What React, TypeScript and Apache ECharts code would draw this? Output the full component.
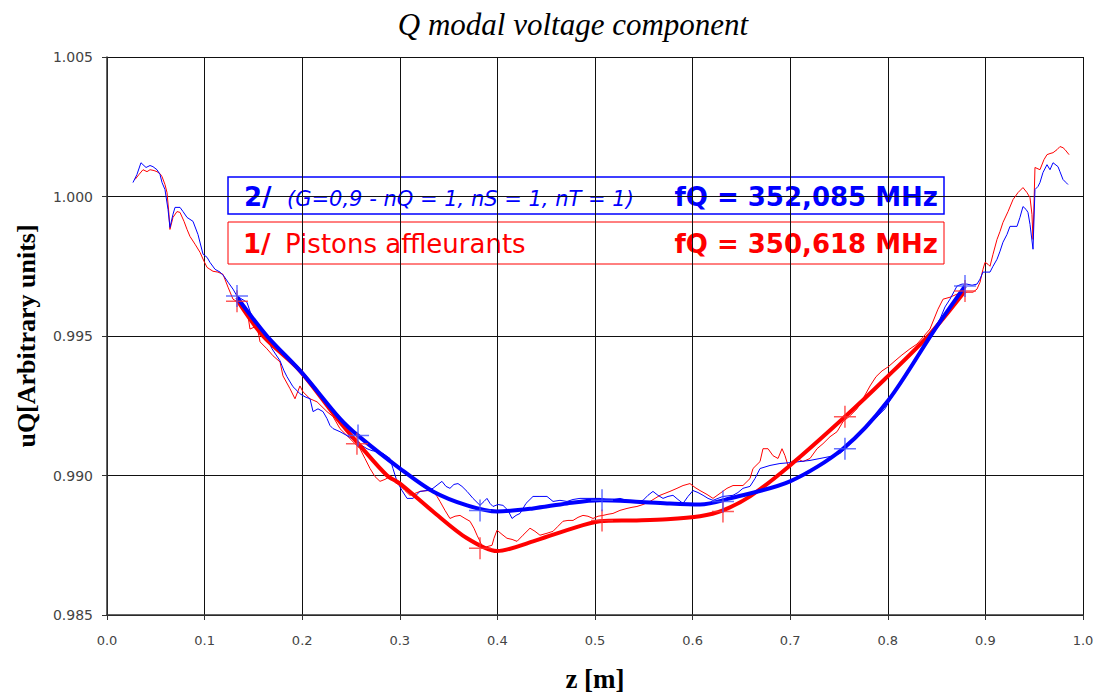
import React, { useEffect, useRef } from "react";
import * as echarts from "echarts";

// Measured voltage, case 2 (blue): [z (m), uQ]
const blueMeasured: [number, number][] = [
  [0.0266, 1.0005], [0.0307, 1.00079], [0.0348, 1.00121], [0.0369, 1.00114], [0.04, 1.00104],
  [0.0441, 1.00111], [0.0471, 1.00107], [0.0512, 1.00096], [0.0543, 1.00079], [0.0564, 1.0005],
  [0.0594, 1.00025], [0.0625, 0.99954], [0.0645, 0.99889], [0.0676, 0.99936], [0.0697, 0.99961],
  [0.0748, 0.99961], [0.0779, 0.99946], [0.082, 0.99925], [0.0881, 0.99911], [0.0932, 0.99864],
  [0.0984, 0.99793], [0.1025, 0.99782], [0.1055, 0.99764], [0.1107, 0.99739], [0.1158, 0.99729],
  [0.1199, 0.99714], [0.124, 0.99693], [0.1291, 0.99668], [0.1332, 0.99643], [0.1383, 0.99632],
  [0.1434, 0.99621], [0.1465, 0.99589], [0.1496, 0.99561], [0.1537, 0.9955], [0.1568, 0.99536],
  [0.1619, 0.99507], [0.1691, 0.99454], [0.1773, 0.99411], [0.1814, 0.99375], [0.1844, 0.99354],
  [0.1906, 0.99318], [0.1947, 0.99304], [0.1977, 0.99293], [0.2029, 0.99282], [0.208, 0.99275],
  [0.2111, 0.99229], [0.2162, 0.99239], [0.2213, 0.99229], [0.2254, 0.99204], [0.2285, 0.99179],
  [0.2316, 0.99168], [0.2387, 0.99157], [0.2459, 0.99143], [0.251, 0.99132], [0.2561, 0.99121],
  [0.2613, 0.99107], [0.2664, 0.99096], [0.2715, 0.99089], [0.2766, 0.99086], [0.2828, 0.99079],
  [0.29, 0.99061], [0.293, 0.99025], [0.2971, 0.98979], [0.3023, 0.98946], [0.3074, 0.98918],
  [0.3135, 0.98918], [0.3207, 0.98943], [0.3279, 0.98946], [0.334, 0.98954], [0.3391, 0.98968],
  [0.3432, 0.98979], [0.3473, 0.98961], [0.3514, 0.98954], [0.3555, 0.98968], [0.3596, 0.98971],
  [0.3637, 0.98961], [0.3689, 0.98943], [0.375, 0.98918], [0.3822, 0.98893], [0.3863, 0.98907],
  [0.3893, 0.98918], [0.3924, 0.989], [0.3955, 0.98889], [0.4006, 0.98896], [0.4057, 0.98893],
  [0.4109, 0.98875], [0.415, 0.98846], [0.4191, 0.98857], [0.4232, 0.98864], [0.4293, 0.989],
  [0.4365, 0.98925], [0.4436, 0.98925], [0.4508, 0.98925], [0.457, 0.98907], [0.4641, 0.98911],
  [0.4713, 0.98907], [0.4775, 0.98914], [0.4846, 0.98918], [0.4949, 0.98918], [0.5051, 0.98918],
  [0.5154, 0.98911], [0.5256, 0.98918], [0.5328, 0.98911], [0.5389, 0.98907], [0.5492, 0.98911],
  [0.5543, 0.98929], [0.5594, 0.98943], [0.5645, 0.98929], [0.5697, 0.98918], [0.5748, 0.98925],
  [0.5799, 0.98929], [0.585, 0.98914], [0.5902, 0.989], [0.5953, 0.98925], [0.6004, 0.98946],
  [0.6055, 0.98939], [0.6107, 0.98929], [0.6158, 0.98918], [0.6209, 0.98911], [0.626, 0.98918],
  [0.6311, 0.98925], [0.6414, 0.98929], [0.6465, 0.98939], [0.6516, 0.98954], [0.6588, 0.98961],
  [0.6639, 0.98989], [0.6691, 0.99025], [0.6793, 0.99036], [0.6895, 0.99043], [0.6998, 0.99046],
  [0.71, 0.9905], [0.7203, 0.99054], [0.7305, 0.99061], [0.7408, 0.99068], [0.751, 0.99079],
  [0.7592, 0.99104], [0.7664, 0.99132], [0.7736, 0.99161], [0.7818, 0.99186], [0.79, 0.99214],
  [0.7971, 0.99239], [0.8043, 0.99282], [0.8125, 0.99329], [0.8197, 0.99371], [0.8258, 0.99407],
  [0.833, 0.99436], [0.8402, 0.99479], [0.8463, 0.99518], [0.8535, 0.99561], [0.8586, 0.99604],
  [0.8637, 0.99632], [0.8709, 0.99679], [0.876, 0.99686], [0.8811, 0.99686], [0.8863, 0.99682],
  [0.8914, 0.99686], [0.8945, 0.99704], [0.8975, 0.99729], [0.9016, 0.99729], [0.9047, 0.99729],
  [0.9078, 0.9975], [0.9119, 0.99775], [0.915, 0.99804], [0.918, 0.99836], [0.9221, 0.99864],
  [0.9252, 0.99893], [0.9283, 0.99893], [0.9324, 0.99893], [0.9354, 0.99925], [0.9385, 0.99964],
  [0.9416, 0.99954], [0.9436, 0.99943], [0.9457, 0.999], [0.9488, 0.99811], [0.9508, 1.00025],
  [0.9539, 1.00036], [0.9559, 1.0005], [0.959, 1.00086], [0.9631, 1.00114], [0.9662, 1.00096],
  [0.9693, 1.00121], [0.9744, 1.00107], [0.9764, 1.00089], [0.9795, 1.00061], [0.9826, 1.0005],
  [0.9846, 1.00043],
];

// Measured voltage, case 1 (red): [z (m), uQ]
const redMeasured: [number, number][] = [
  [0.0287, 1.00061], [0.0328, 1.00079], [0.0369, 1.00096], [0.041, 1.00089], [0.0441, 1.00096],
  [0.0482, 1.00093], [0.0512, 1.00089], [0.0543, 1.00082], [0.0564, 1.00071], [0.0594, 1.00043],
  [0.0615, 1.00014], [0.0635, 0.99936], [0.0645, 0.99882], [0.0676, 0.99925], [0.0717, 0.99946],
  [0.0748, 0.99943], [0.0789, 0.99911], [0.082, 0.99882], [0.085, 0.99857], [0.0902, 0.99829],
  [0.0953, 0.998], [0.0994, 0.99768], [0.1025, 0.99746], [0.1055, 0.99739], [0.1086, 0.99732],
  [0.1137, 0.99729], [0.1189, 0.99721], [0.124, 0.99675], [0.1291, 0.99632], [0.1342, 0.99621],
  [0.1383, 0.99614], [0.1434, 0.99596], [0.1465, 0.99525], [0.1537, 0.99536], [0.1568, 0.99479],
  [0.1639, 0.99454], [0.1701, 0.99429], [0.1773, 0.99407], [0.1803, 0.99357], [0.1875, 0.99311],
  [0.1926, 0.99275], [0.1977, 0.99321], [0.2008, 0.993], [0.208, 0.99275], [0.2152, 0.99264],
  [0.2254, 0.99229], [0.2316, 0.99211], [0.2387, 0.99168], [0.2459, 0.99143], [0.2541, 0.99114],
  [0.2592, 0.99096], [0.2643, 0.99061], [0.2695, 0.99025], [0.2746, 0.98996], [0.2797, 0.98979],
  [0.2848, 0.98986], [0.29, 0.98996], [0.2951, 0.98975], [0.3002, 0.98964], [0.3053, 0.98946],
  [0.3104, 0.98929], [0.3156, 0.98936], [0.3207, 0.98943], [0.3279, 0.98946], [0.334, 0.98943],
  [0.3381, 0.98925], [0.3412, 0.98907], [0.3463, 0.98875], [0.3514, 0.98846], [0.3566, 0.98854],
  [0.3617, 0.98857], [0.3668, 0.98846], [0.3719, 0.98836], [0.376, 0.98811], [0.3791, 0.98786],
  [0.3822, 0.98764], [0.3852, 0.98739], [0.3904, 0.98746], [0.3945, 0.9875], [0.3965, 0.98775],
  [0.3996, 0.98804], [0.4047, 0.98789], [0.4098, 0.98775], [0.415, 0.98771], [0.4201, 0.98764],
  [0.4262, 0.98786], [0.4334, 0.98811], [0.4385, 0.988], [0.4436, 0.98786], [0.4508, 0.98793],
  [0.457, 0.988], [0.4621, 0.98818], [0.4672, 0.98836], [0.4723, 0.98839], [0.4775, 0.98839],
  [0.4826, 0.9885], [0.4877, 0.98857], [0.4928, 0.98854], [0.498, 0.98846], [0.5031, 0.98854],
  [0.5082, 0.98857], [0.5133, 0.98861], [0.5184, 0.98864], [0.5256, 0.98875], [0.5328, 0.98882],
  [0.5379, 0.98886], [0.543, 0.98889], [0.5492, 0.98896], [0.5564, 0.98907], [0.5615, 0.98918],
  [0.5666, 0.98929], [0.5717, 0.98936], [0.5768, 0.98943], [0.584, 0.98954], [0.5902, 0.98964],
  [0.5943, 0.98968], [0.5973, 0.98971], [0.6025, 0.98957], [0.6076, 0.98946], [0.6148, 0.98932],
  [0.6209, 0.98918], [0.6281, 0.98936], [0.6352, 0.98954], [0.6414, 0.98964], [0.6516, 0.98964],
  [0.6588, 0.98989], [0.6619, 0.99025], [0.6691, 0.9905], [0.6721, 0.99096], [0.6773, 0.99096],
  [0.6824, 0.99071], [0.6875, 0.99061], [0.6916, 0.99096], [0.6947, 0.99071], [0.6977, 0.99036],
  [0.7018, 0.9905], [0.707, 0.99061], [0.7131, 0.9905], [0.7203, 0.99061], [0.7275, 0.99096],
  [0.7336, 0.99114], [0.7408, 0.99139], [0.748, 0.99157], [0.7541, 0.99193], [0.7613, 0.99214],
  [0.7684, 0.99239], [0.7746, 0.99275], [0.7818, 0.99321], [0.7879, 0.99354], [0.7941, 0.99375],
  [0.8002, 0.99389], [0.8074, 0.99411], [0.8145, 0.99432], [0.8227, 0.99454], [0.8299, 0.99471],
  [0.8361, 0.99496], [0.8432, 0.99525], [0.8514, 0.99596], [0.8566, 0.99632], [0.8637, 0.99639],
  [0.8709, 0.9965], [0.877, 0.99657], [0.8822, 0.99657], [0.8873, 0.99657], [0.8914, 0.99668],
  [0.8945, 0.99693], [0.8975, 0.99739], [0.8996, 0.99764], [0.9027, 0.99757], [0.9047, 0.9975],
  [0.9078, 0.99793], [0.9119, 0.99846], [0.915, 0.99875], [0.918, 0.99907], [0.9232, 0.99946],
  [0.9283, 0.99989], [0.9334, 1.00014], [0.9385, 1.00032], [0.9426, 1.00014], [0.9457, 0.99996],
  [0.9477, 0.99936], [0.9488, 0.99846], [0.9508, 1.00104], [0.9559, 1.00096], [0.96, 1.00132],
  [0.9631, 1.0015], [0.9662, 1.00154], [0.9693, 1.00157], [0.9734, 1.00168], [0.9764, 1.00179],
  [0.9795, 1.00175], [0.9816, 1.00168], [0.9857, 1.0015],
];

// Fitted (smoothed) curves
const blueFit: [number, number][] = [
  [0.1332, 0.99639], [0.1639, 0.995], [0.1998, 0.99368], [0.2387, 0.99204], [0.2572, 0.99143],
  [0.3002, 0.99025], [0.334, 0.98943], [0.3689, 0.98893], [0.3996, 0.98871], [0.4365, 0.98882],
  [0.4713, 0.989], [0.5051, 0.98911], [0.5389, 0.98907], [0.5738, 0.989], [0.6076, 0.98896],
  [0.6383, 0.98918], [0.6998, 0.98979], [0.7541, 0.99096], [0.8002, 0.99268], [0.8484, 0.99525],
  [0.8791, 0.99679],
];
const redFit: [number, number][] = [
  [0.1332, 0.99629], [0.1598, 0.995], [0.1977, 0.99375], [0.2357, 0.99204], [0.2592, 0.99107],
  [0.2869, 0.99], [0.3002, 0.98971], [0.334, 0.98871], [0.3689, 0.98775], [0.3996, 0.98729],
  [0.4365, 0.98764], [0.4713, 0.98804], [0.5051, 0.98836], [0.5389, 0.98839], [0.5738, 0.98843],
  [0.6076, 0.98854], [0.6311, 0.98875], [0.6588, 0.98925], [0.6998, 0.99036], [0.7541, 0.99204],
  [0.7971, 0.99346], [0.8432, 0.99507], [0.8791, 0.99661],
];

// Fit nodes (+ markers)
const blueNodes: [number, number][] = [
  [0.1332, 0.99643], [0.2572, 0.99143], [0.3822, 0.98875], [0.5072, 0.98911],
  [0.6311, 0.98907], [0.7561, 0.99096], [0.8791, 0.99679],
];
const redNodes: [number, number][] = [
  [0.1332, 0.99625], [0.2561, 0.99114], [0.3822, 0.98739], [0.5072, 0.98839],
  [0.6311, 0.98871], [0.7561, 0.99211], [0.8791, 0.99661],
];

const titleText = "Q modal voltage component";
const xName = "z [m]";
const yName = "uQ[Arbitrary units]";
const blueLabel = ["2/", "(G=0,9 - nQ = 1, nS = 1, nT = 1)", "fQ = 352,085 MHz"];
const redLabel = ["1/", "Pistons affleurants", "fQ = 350,618 MHz"];

const BLUE = "#0000ff";
const RED = "#ff0000";
const LEGEND_FONT = "'DejaVu Sans', 'Open Sans', sans-serif";

export default function App() {
  const ref = useRef<HTMLDivElement>(null);

  useEffect(() => {
    document.body.style.margin = "0";
    const chart = echarts.init(ref.current!, null, { renderer: "svg" });
    const plusSymbol = "path://M0,-10L0,10M-10,0L10,0";
    chart.setOption({
      animation: false,
      backgroundColor: "#ffffff",
      title: {
        text: titleText,
        left: 568,
        top: 4,
        textAlign: "center",
        textStyle: {
          fontFamily: "'Liberation Serif', 'DejaVu Serif', serif",
          fontStyle: "italic",
          fontWeight: "normal",
          fontSize: 31,
          color: "#000",
        },
      },
      grid: { left: 107, right: 18, top: 57, bottom: 80, containLabel: false },
      xAxis: {
        type: "value",
        min: 0,
        max: 1,
        interval: 0.1,
        name: xName,
        nameLocation: "middle",
        nameGap: 50,
        nameTextStyle: {
          fontFamily: "'Liberation Serif', serif",
          fontWeight: "bold",
          fontSize: 27,
          color: "#000",
        },
        axisLine: { show: true, lineStyle: { color: "#333", width: 1.5 } },
        axisTick: { show: true, length: 5, lineStyle: { color: "#333" } },
        axisLabel: {
          margin: 19,
          fontFamily: "'DejaVu Sans', sans-serif",
          fontSize: 13,
          color: "#444",
          formatter: (v: number) => v.toFixed(1),
        },
        splitLine: { show: true, lineStyle: { color: "#111", width: 1 } },
      },
      yAxis: {
        type: "value",
        min: 0.985,
        max: 1.005,
        interval: 0.005,
        name: yName,
        nameLocation: "middle",
        nameRotate: 90,
        nameGap: 68,
        nameTextStyle: {
          fontFamily: "'Liberation Serif', serif",
          fontWeight: "bold",
          fontSize: 26,
          color: "#000",
        },
        axisLine: { show: true, lineStyle: { color: "#333", width: 1.5 } },
        axisTick: { show: true, length: 5, lineStyle: { color: "#333" } },
        axisLabel: {
          margin: 14,
          fontFamily: "'DejaVu Sans', sans-serif",
          fontSize: 14,
          color: "#444",
          formatter: (v: number) => v.toFixed(3),
        },
        splitLine: { show: true, lineStyle: { color: "#111", width: 1 } },
      },
      series: [
        {
          type: "line",
          name: "1/ measured",
          data: redMeasured,
          showSymbol: false,
          lineStyle: { color: RED, width: 1 },
          itemStyle: { color: RED },
          z: 2,
        },
        {
          type: "line",
          name: "2/ measured",
          data: blueMeasured,
          showSymbol: false,
          lineStyle: { color: BLUE, width: 1 },
          itemStyle: { color: BLUE },
          z: 3,
        },
        {
          type: "line",
          name: "1/ fit",
          data: redFit,
          showSymbol: false,
          smooth: 0.3,
          lineStyle: { color: RED, width: 4 },
          itemStyle: { color: RED },
          z: 4,
        },
        {
          type: "line",
          name: "2/ fit",
          data: blueFit,
          showSymbol: false,
          smooth: 0.3,
          lineStyle: { color: BLUE, width: 4 },
          itemStyle: { color: BLUE },
          z: 5,
        },
        {
          type: "scatter",
          name: "1/ nodes",
          data: redNodes,
          symbol: plusSymbol,
          symbolSize: 22,
          itemStyle: { color: "none", borderColor: "#ff3030", borderWidth: 1.5 },
          z: 6,
        },
        {
          type: "scatter",
          name: "2/ nodes",
          data: blueNodes,
          symbol: plusSymbol,
          symbolSize: 22,
          itemStyle: { color: "none", borderColor: "#4050ff", borderWidth: 1.5 },
          z: 7,
        },
      ],
      graphic: [
        {
          type: "group",
          z: 100,
          children: [
            {
              type: "rect",
              shape: { x: 228, y: 177, width: 716, height: 37 },
              style: { fill: "#fff", stroke: BLUE, lineWidth: 1.5 },
            },
            {
              type: "text",
              x: 244,
              y: 197,
              style: {
                text: blueLabel[0],
                fill: BLUE,
                font: `bold 26px ${LEGEND_FONT}`,
                textVerticalAlign: "middle",
              },
            },
            {
              type: "text",
              x: 287,
              y: 199,
              style: {
                text: blueLabel[1],
                fill: BLUE,
                font: `italic 21px ${LEGEND_FONT}`,
                textVerticalAlign: "middle",
              },
            },
            {
              type: "text",
              x: 938,
              y: 197,
              style: {
                text: blueLabel[2],
                fill: BLUE,
                font: `bold 26px ${LEGEND_FONT}`,
                textAlign: "right",
                textVerticalAlign: "middle",
              },
            },
            {
              type: "rect",
              shape: { x: 228, y: 222, width: 716, height: 42 },
              style: { fill: "#fff", stroke: RED, lineWidth: 1 },
            },
            {
              type: "text",
              x: 243,
              y: 244,
              style: {
                text: redLabel[0],
                fill: RED,
                font: `bold 26px ${LEGEND_FONT}`,
                textVerticalAlign: "middle",
              },
            },
            {
              type: "text",
              x: 285,
              y: 244,
              style: {
                text: redLabel[1],
                fill: RED,
                font: `26px ${LEGEND_FONT}`,
                textVerticalAlign: "middle",
              },
            },
            {
              type: "text",
              x: 938,
              y: 244,
              style: {
                text: redLabel[2],
                fill: RED,
                font: `bold 26px ${LEGEND_FONT}`,
                textAlign: "right",
                textVerticalAlign: "middle",
              },
            },
          ],
        },
      ],
    });
    return () => chart.dispose();
  }, []);

  return <div ref={ref} style={{ width: 1101, height: 697 }} />;
}
